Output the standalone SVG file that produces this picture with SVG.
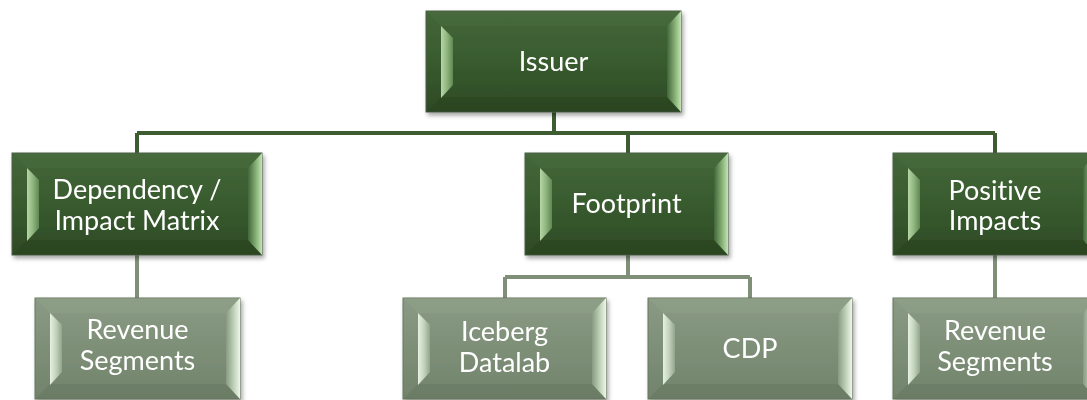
<svg xmlns="http://www.w3.org/2000/svg" width="1087" height="400" viewBox="0 0 1087 400">
  <defs>
    <linearGradient id="gDark" x1="0" y1="0" x2="0" y2="1">
      <stop offset="0" stop-color="#44673a"/>
      <stop offset="0.5" stop-color="#385b2e"/>
      <stop offset="1" stop-color="#2e4a26"/>
    </linearGradient>
    <linearGradient id="gLight" x1="0" y1="0" x2="0" y2="1">
      <stop offset="0" stop-color="#8a9a84"/>
      <stop offset="0.5" stop-color="#7e8f78"/>
      <stop offset="1" stop-color="#72836c"/>
    </linearGradient>
    <linearGradient id="gDarkHL" x1="0" y1="0" x2="1" y2="0">
      <stop offset="0" stop-color="#b6d6a7"/>
      <stop offset="0.5" stop-color="#8fb57e"/>
      <stop offset="1" stop-color="#5f8852"/>
    </linearGradient>
    <linearGradient id="gDarkHR" x1="0" y1="0" x2="1" y2="0">
      <stop offset="0" stop-color="#42663a"/>
      <stop offset="0.6" stop-color="#8ab479"/>
      <stop offset="1" stop-color="#c4e3b6"/>
    </linearGradient>
    <linearGradient id="gLightHL" x1="0" y1="0" x2="1" y2="0">
      <stop offset="0" stop-color="#e6f1e0"/>
      <stop offset="0.5" stop-color="#c3d3bc"/>
      <stop offset="1" stop-color="#93a48c"/>
    </linearGradient>
    <linearGradient id="gLightHR" x1="0" y1="0" x2="1" y2="0">
      <stop offset="0" stop-color="#889a82"/>
      <stop offset="0.6" stop-color="#c3d5bc"/>
      <stop offset="1" stop-color="#eef6ea"/>
    </linearGradient>
    <filter id="shadow" x="-5%" y="-10%" width="115%" height="130%">
      <feDropShadow dx="2" dy="3" stdDeviation="2" flood-color="#000" flood-opacity="0.35"/>
    </filter>
    <style>
      .dark .body { fill: url(#gDark); stroke: #4d5e47; stroke-width: 1; }
      .dark .top { fill: #4a6f3e; opacity: 0.4; }
      .dark .bot { fill: #233b1c; opacity: 0.3; }
      .dark .hl { fill: url(#gDarkHL); }
      .dark .hr { fill: url(#gDarkHR); }
      .light .body { fill: url(#gLight); stroke: #66765f; stroke-width: 1; }
      .light .top { fill: #94a48d; opacity: 0.4; }
      .light .bot { fill: #5c6c57; opacity: 0.3; }
      .light .hl { fill: url(#gLightHL); }
      .light .hr { fill: url(#gLightHR); }
      .node { filter: url(#shadow); }
      text { font-family: Lato, "Open Sans", "Liberation Sans", sans-serif; font-size: 27px; fill: #ffffff; text-anchor: middle; font-variant-ligatures: none; }
      .ln-dark { stroke: #3d5c31; stroke-width: 4; fill: none; }
      .ln-light { stroke: #7f8f78; stroke-width: 4; fill: none; }
    </style>
  </defs>

  <rect width="1087" height="400" fill="#ffffff"/>

  <!-- connectors -->
  <g id="connectors">
    <path class="ln-dark" d="M554,112 V133 M137,133 H995 M137,133 V153 M628,133 V153 M995,133 V153"/>
    <path class="ln-light" d="M137,255 V298 M628,255 V277 M505,277 H750 M505,277 V298 M750,277 V298 M995,255 V298"/>
  </g>

  <!-- root -->
  <g id="issuer" class="node dark">
    <rect class="body" x="426" y="11" width="255" height="101"/>
    <polygon class="top" points="426,11 681,11 667,26 441,26"/>
    <polygon class="bot" points="426,112 681,112 667,97 441,97"/>
    <polygon class="hl" points="441,26 453,38 453,85 441,98"/>
    <polygon class="hr" points="681,11 667,26 667,97 681,112"/>
    <text x="553.5" y="71">Issuer</text>
  </g>

  <!-- second level -->
  <g id="dependency" class="node dark">
    <rect class="body" x="12" y="153" width="250" height="102"/>
    <polygon class="top" points="12,153 262,153 248,168 27,168"/>
    <polygon class="bot" points="12,255 262,255 248,240 27,240"/>
    <polygon class="hl" points="27,168 39,180 39,228 27,241"/>
    <polygon class="hr" points="262,153 248,168 248,240 262,255"/>
    <text x="137" y="199">Dependency /</text>
    <text x="137" y="230">Impact Matrix</text>
  </g>

  <g id="footprint" class="node dark">
    <rect class="body" x="525" y="153" width="203" height="102"/>
    <polygon class="top" points="525,153 728,153 714,168 540,168"/>
    <polygon class="bot" points="525,255 728,255 714,240 540,240"/>
    <polygon class="hl" points="540,168 552,180 552,228 540,241"/>
    <polygon class="hr" points="728,153 714,168 714,240 728,255"/>
    <text x="626.5" y="213">Footprint</text>
  </g>

  <g id="positive" class="node dark">
    <rect class="body" x="893" y="153" width="204" height="102"/>
    <polygon class="top" points="893,153 1097,153 1083,168 908,168"/>
    <polygon class="bot" points="893,255 1097,255 1083,240 908,240"/>
    <polygon class="hl" points="908,168 920,180 920,228 908,241"/>
    <polygon class="hr" points="1097,153 1083,168 1083,240 1097,255"/>
    <text x="995" y="200">Positive</text>
    <text x="995" y="230">Impacts</text>
  </g>

  <!-- third level -->
  <g id="revenue-left" class="node light">
    <rect class="body" x="35" y="298" width="205" height="101"/>
    <polygon class="top" points="35,298 240,298 226,313 50,313"/>
    <polygon class="bot" points="35,399 240,399 226,384 50,384"/>
    <polygon class="hl" points="50,313 62,325 62,372 50,385"/>
    <polygon class="hr" points="240,298 226,313 226,384 240,399"/>
    <text x="137.5" y="339">Revenue</text>
    <text x="137.5" y="370">Segments</text>
  </g>

  <g id="iceberg" class="node light">
    <rect class="body" x="403" y="298" width="203" height="101"/>
    <polygon class="top" points="403,298 606,298 592,313 418,313"/>
    <polygon class="bot" points="403,399 606,399 592,384 418,384"/>
    <polygon class="hl" points="418,313 430,325 430,372 418,385"/>
    <polygon class="hr" points="606,298 592,313 592,384 606,399"/>
    <text x="504.5" y="341">Iceberg</text>
    <text x="504.5" y="372">Datalab</text>
  </g>

  <g id="cdp" class="node light">
    <rect class="body" x="648" y="298" width="204" height="101"/>
    <polygon class="top" points="648,298 852,298 838,313 663,313"/>
    <polygon class="bot" points="648,399 852,399 838,384 663,384"/>
    <polygon class="hl" points="663,313 675,325 675,372 663,385"/>
    <polygon class="hr" points="852,298 838,313 838,384 852,399"/>
    <text x="750" y="358">CDP</text>
  </g>

  <g id="revenue-right" class="node light">
    <rect class="body" x="893" y="298" width="204" height="101"/>
    <polygon class="top" points="893,298 1097,298 1083,313 908,313"/>
    <polygon class="bot" points="893,399 1097,399 1083,384 908,384"/>
    <polygon class="hl" points="908,313 920,325 920,372 908,385"/>
    <polygon class="hr" points="1097,298 1083,313 1083,384 1097,399"/>
    <text x="995" y="340">Revenue</text>
    <text x="995" y="371">Segments</text>
  </g>
</svg>
